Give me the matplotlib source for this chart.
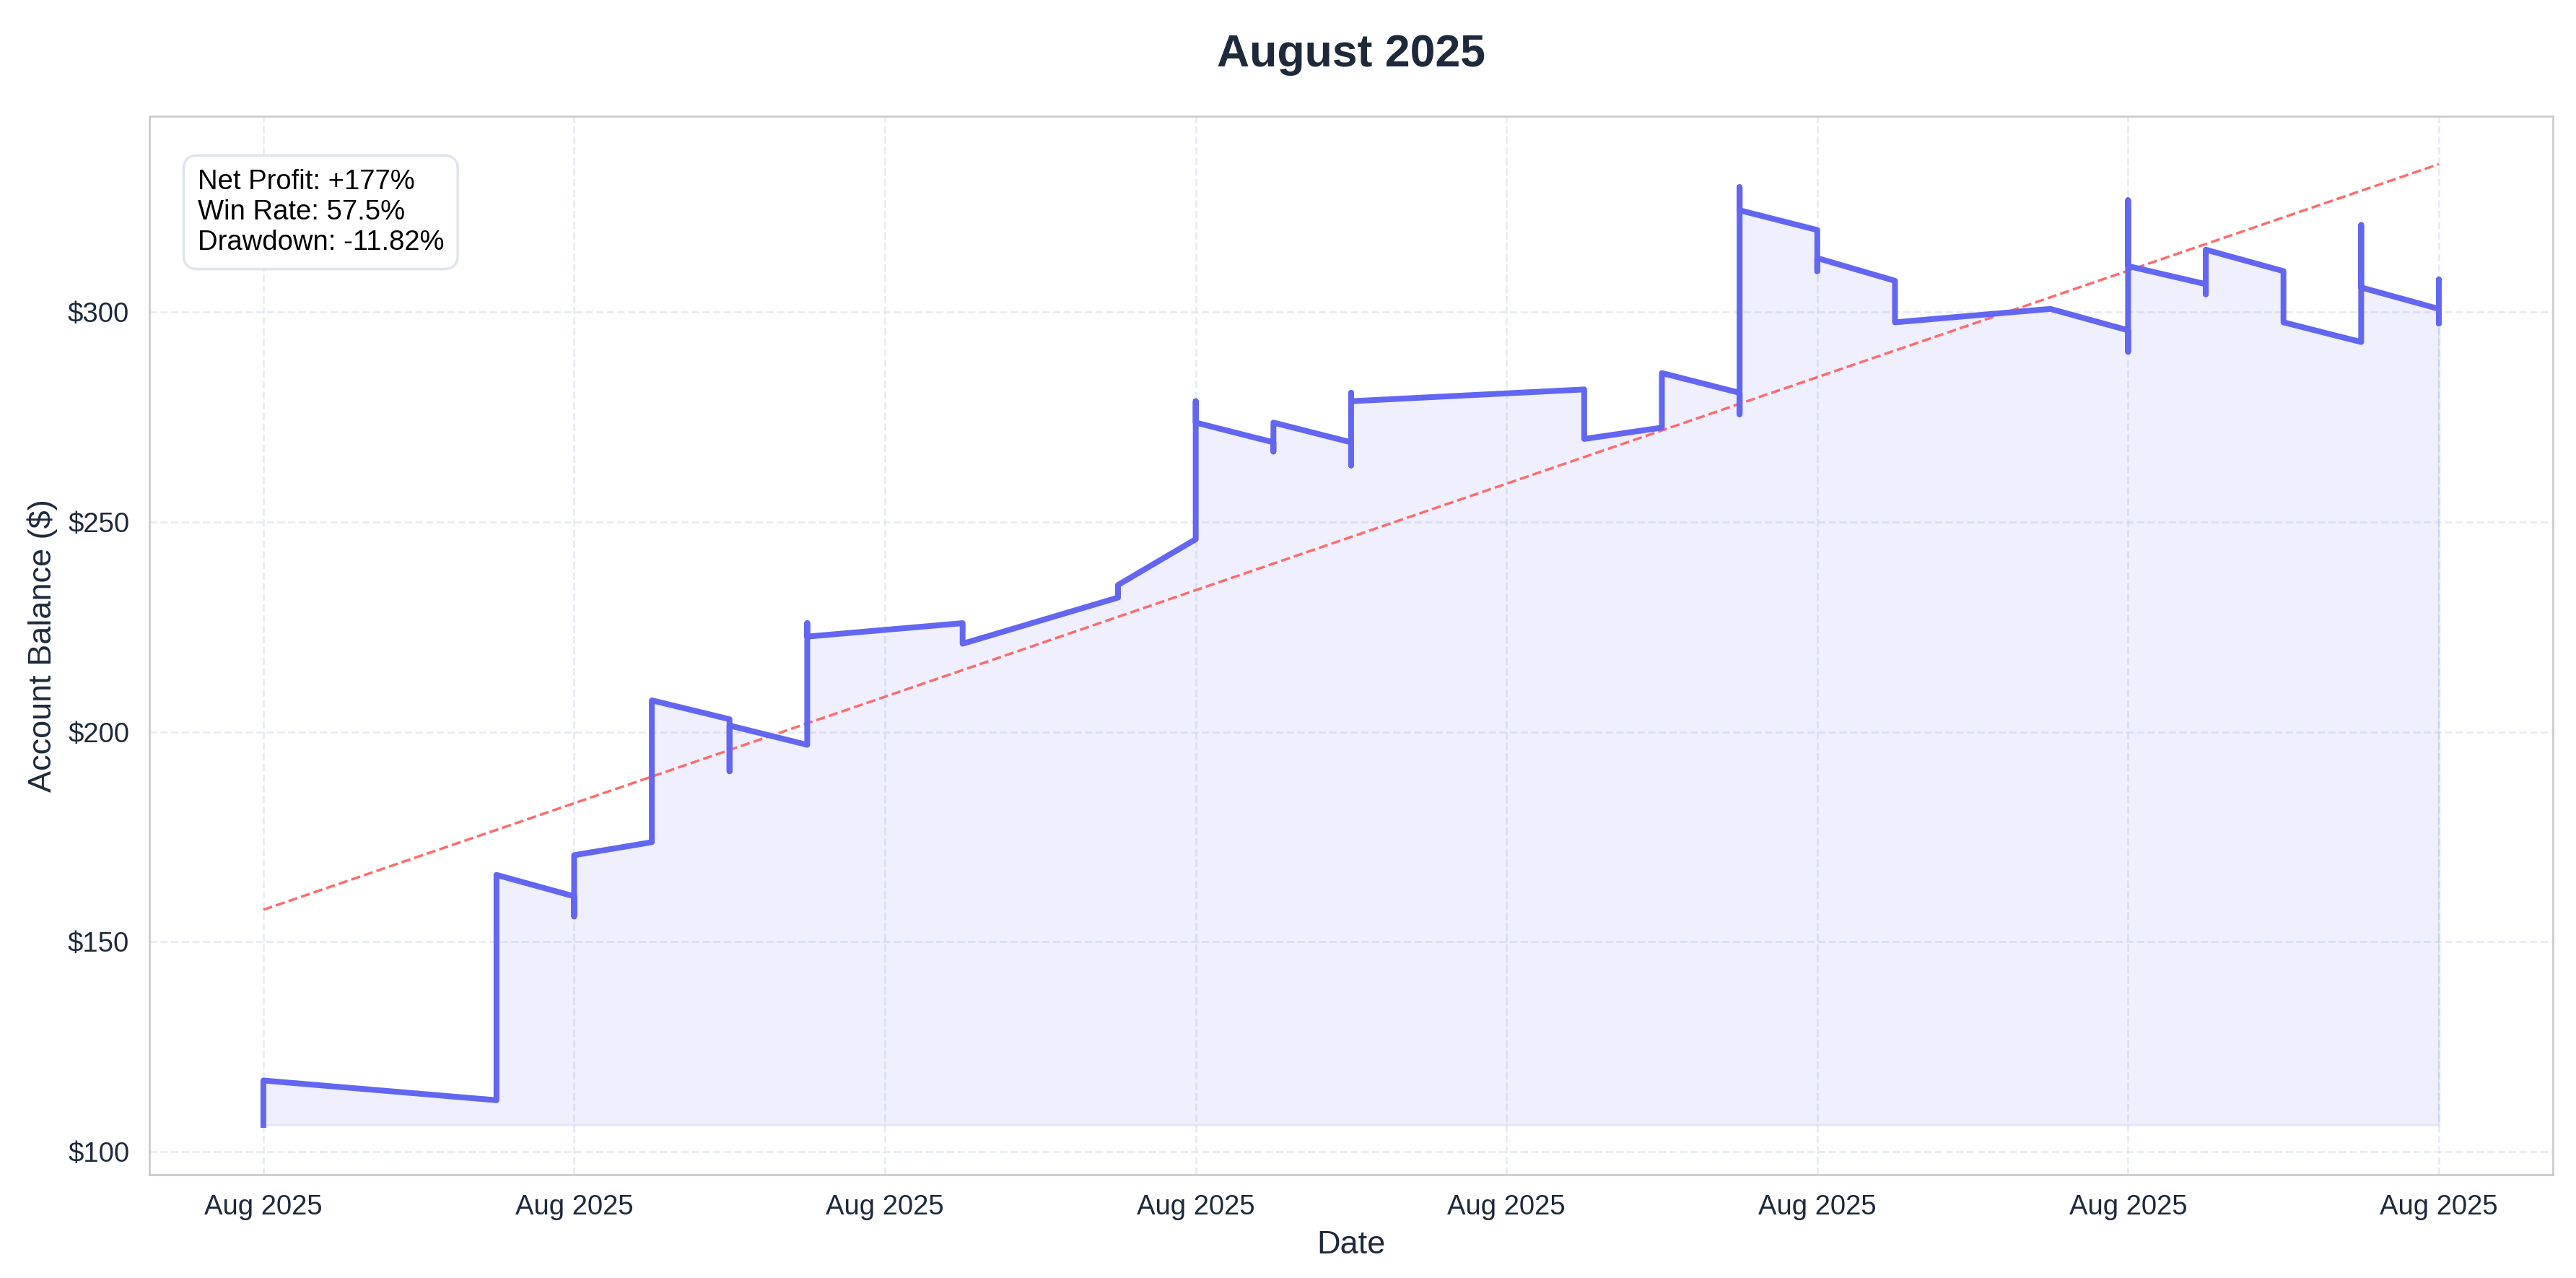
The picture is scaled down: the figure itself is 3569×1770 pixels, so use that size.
import numpy as np
import pandas as pd
import matplotlib.pyplot as plt
import matplotlib.dates as mdates

# step index (6-hour steps from Aug 1) and balance after each trade
steps = [0, 0, 3, 3, 4, 4, 4, 5, 5, 6, 6, 6, 7, 7, 7, 9, 9, 11, 11, 12, 12, 12,
         13, 13, 13, 14, 14, 14, 14, 17, 17, 18, 18, 19, 19, 19, 19, 20, 20, 20,
         21, 21, 23, 24, 24, 24, 24, 25, 25, 25, 26, 26, 27, 27, 27, 28, 28, 28, 28]
balance = [106.3, 116.9, 112.2, 165.9, 160.8, 156.0, 170.6, 173.7, 207.5, 203.0, 190.6, 201.5,
           196.9, 225.9, 222.7, 225.9, 221.0, 232.0, 235.0, 245.9, 278.8, 273.7,
           269.0, 266.8, 273.7, 269.0, 263.5, 280.8, 278.8, 281.6, 269.8, 272.5, 285.5,
           280.8, 275.7, 329.8, 324.3, 319.6, 309.8, 312.9, 307.5, 297.6, 300.8,
           295.7, 290.6, 326.7, 311.0, 306.7, 304.3, 314.9, 309.8, 297.6,
           292.9, 320.8, 305.9, 300.8, 297.3, 307.8, 301.6]
trend_start, trend_end = 157.6, 335.3
stats_text = "Net Profit: +177%\nWin Rate: 57.5%\nDrawdown: -11.82%"

dates = pd.Timestamp("2025-08-01") + pd.to_timedelta(np.array(steps) * 6, unit="h")
bal = np.array(balance)

plt.rcParams['font.family'] = ['Arial', 'Liberation Sans', 'DejaVu Sans']
fig = plt.figure(figsize=(14.276, 7.08), dpi=250)
ax = fig.add_axes([0.058, 0.081, 0.933, 0.828])

line_c = '#6366f1'
ax.plot(dates, bal, color=line_c, lw=2.3, zorder=3)
ax.fill_between(dates, bal.min(), bal, color=line_c, alpha=0.1, zorder=2)
ax.plot([dates[0], dates[-1]], [trend_start, trend_end], color='#ff6b6b', lw=1, ls='--', zorder=2)

ax.set_ylim(94.5, 346.7)
ax.set_xlim(dates[0] - pd.Timedelta(hours=8.8), dates[-1] + pd.Timedelta(hours=8.8))
ax.yaxis.set_major_formatter(plt.FuncFormatter(lambda v, p: f"${v:.0f}"))
ax.xaxis.set_major_locator(mdates.DayLocator())
ax.xaxis.set_major_formatter(mdates.DateFormatter("%b %Y"))
ax.tick_params(labelsize=11, colors='#1e293b', length=0, pad=8)
ax.grid(True, ls='--', color='#e2e8f0', lw=0.8, alpha=0.8)
ax.set_axisbelow(True)
for s in ax.spines.values():
    s.set_color('#cccccc')

ax.set_title("August 2025", fontsize=18, fontweight='bold', color='#1e293b', pad=20)
ax.set_xlabel("Date", fontsize=13, color='#1e293b')
ax.set_ylabel("Account Balance ($)", fontsize=13, color='#1e293b')
ax.text(0.02, 0.95, stats_text, transform=ax.transAxes, va='top', fontsize=11,
        bbox=dict(boxstyle='round,pad=0.5', fc='white', ec='#dde1ea', alpha=0.9))

fig.savefig("out.png", dpi=250)
